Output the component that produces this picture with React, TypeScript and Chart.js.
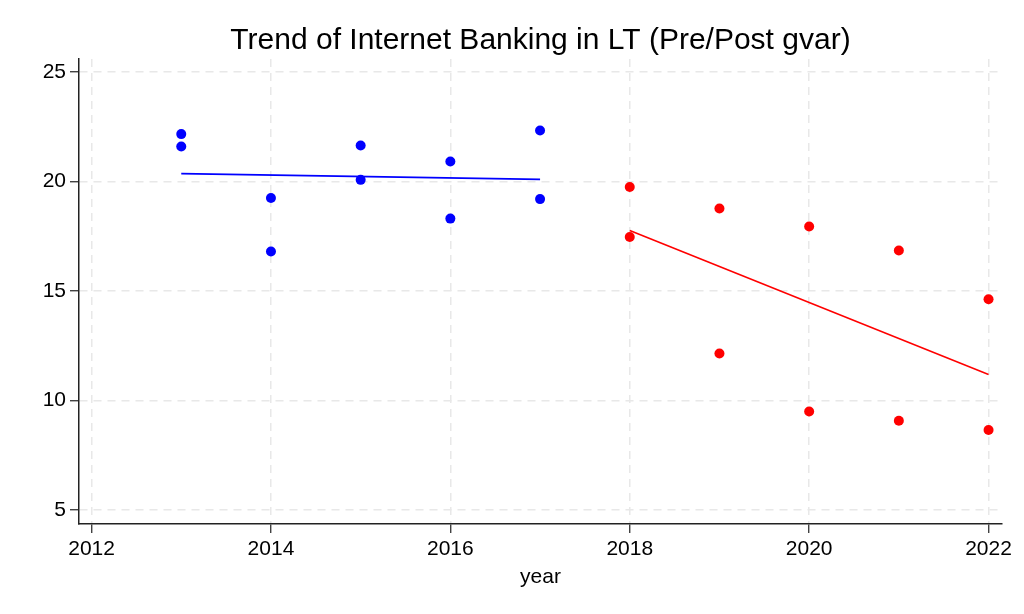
import React, { useEffect, useRef } from "react";
import { Chart, registerables } from "chart.js";

Chart.register(...registerables);

const preYears = [2013, 2013, 2014, 2014, 2015, 2015, 2016, 2016, 2017, 2017];
const preValues = [22.17, 21.6, 19.25, 16.81, 21.65, 20.08, 20.92, 18.31, 22.33, 19.2];
const postYears = [2018, 2018, 2019, 2019, 2020, 2020, 2021, 2021, 2022, 2022];
const postValues = [19.75, 17.47, 18.77, 12.15, 17.95, 9.5, 16.85, 9.08, 14.63, 8.65];
const xTicks = [2012, 2014, 2016, 2018, 2020, 2022];
const yTicks = [5, 10, 15, 20, 25];
const titleText = "Trend of Internet Banking in LT (Pre/Post gvar)";

function linearFit(xs: number[], ys: number[]) {
  const n = xs.length;
  const mx = xs.reduce((a, b) => a + b, 0) / n;
  const my = ys.reduce((a, b) => a + b, 0) / n;
  let sxy = 0;
  let sxx = 0;
  for (let i = 0; i < n; i++) {
    sxy += (xs[i] - mx) * (ys[i] - my);
    sxx += (xs[i] - mx) * (xs[i] - mx);
  }
  const b = sxy / sxx;
  const a = my - b * mx;
  const x0 = Math.min(...xs);
  const x1 = Math.max(...xs);
  return [
    { x: x0, y: a + b * x0 },
    { x: x1, y: a + b * x1 },
  ];
}

const FONT = "'Liberation Sans', Arial, Helvetica, sans-serif";

const plotTitle = {
  id: "plotTitle",
  afterDraw(chart: any) {
    const { ctx, chartArea } = chart;
    ctx.save();
    ctx.font = `30px ${FONT}`;
    ctx.fillStyle = "#000";
    ctx.textAlign = "center";
    ctx.textBaseline = "alphabetic";
    ctx.fillText(titleText, (chartArea.left + chartArea.right) / 2, 48.5);
    ctx.restore();
  },
};

export default function App() {
  const ref = useRef<HTMLCanvasElement | null>(null);
  useEffect(() => {
    document.body.style.margin = "0";
    const ctx = ref.current!;
    const toPts = (xs: number[], ys: number[]) => xs.map((x, i) => ({ x, y: ys[i] }));
    const gridOpts = {
      color: "#e8e8e8",
      lineWidth: 1.5,
      tickLength: 9,
      tickColor: "#222",
      tickWidth: 1.2,
      tickBorderDash: [],
    } as any;
    const chart = new Chart(ctx, {
      type: "scatter",
      data: {
        datasets: [
          {
            label: "Pre",
            data: toPts(preYears, preValues),
            backgroundColor: "#0000ff",
            borderColor: "#0000ff",
            pointRadius: 5,
            pointBorderWidth: 0,
          },
          {
            label: "Post",
            data: toPts(postYears, postValues),
            backgroundColor: "#ff0000",
            borderColor: "#ff0000",
            pointRadius: 5,
            pointBorderWidth: 0,
          },
          {
            type: "line",
            label: "Pre fit",
            data: linearFit(preYears, preValues),
            borderColor: "#0000ff",
            borderWidth: 1.6,
            pointRadius: 0,
            fill: false,
          } as any,
          {
            type: "line",
            label: "Post fit",
            data: linearFit(postYears, postValues),
            borderColor: "#ff0000",
            borderWidth: 1.6,
            pointRadius: 0,
            fill: false,
          } as any,
        ],
      },
      plugins: [plotTitle],
      options: {
        animation: false,
        responsive: false,
        devicePixelRatio: 1,
        layout: { padding: { left: 0, right: 22, top: 59, bottom: 0 } },
        plugins: {
          legend: { display: false },
          tooltip: { enabled: false },
          title: { display: false },
        },
        scales: {
          x: {
            type: "linear",
            min: 2011.86,
            max: 2022.15,
            afterBuildTicks: (axis: any) => {
              axis.ticks = xTicks.map((v) => ({ value: v }));
            },
            afterFit: (axis: any) => {
              axis.height = 90;
            },
            ticks: {
              color: "#000",
              font: { family: FONT, size: 21 },
              padding: 4,
              maxRotation: 0,
              callback: (v: any) => String(v),
            },
            grid: gridOpts,
            border: { display: true, color: "#222", width: 1.5, dash: [8, 6] } as any,
            title: {
              display: true,
              text: "year",
              color: "#000",
              font: { family: FONT, size: 21 },
              padding: { top: 0, bottom: 24 },
            },
          },
          y: {
            type: "linear",
            min: 4.36,
            max: 25.6,
            afterBuildTicks: (axis: any) => {
              axis.ticks = yTicks.map((v) => ({ value: v }));
            },
            afterFit: (axis: any) => {
              axis.width = 79;
            },
            ticks: {
              color: "#000",
              font: { family: FONT, size: 21 },
              padding: 4,
              callback: (v: any) => String(v),
            },
            grid: gridOpts,
            border: { display: true, color: "#222", width: 1.5, dash: [8, 6] } as any,
          },
        },
      } as any,
    });
    return () => chart.destroy();
  }, []);
  return (
    <div style={{ width: 1024, height: 614 }}>
      <canvas ref={ref} width={1024} height={614} style={{ display: "block" }} />
    </div>
  );
}
